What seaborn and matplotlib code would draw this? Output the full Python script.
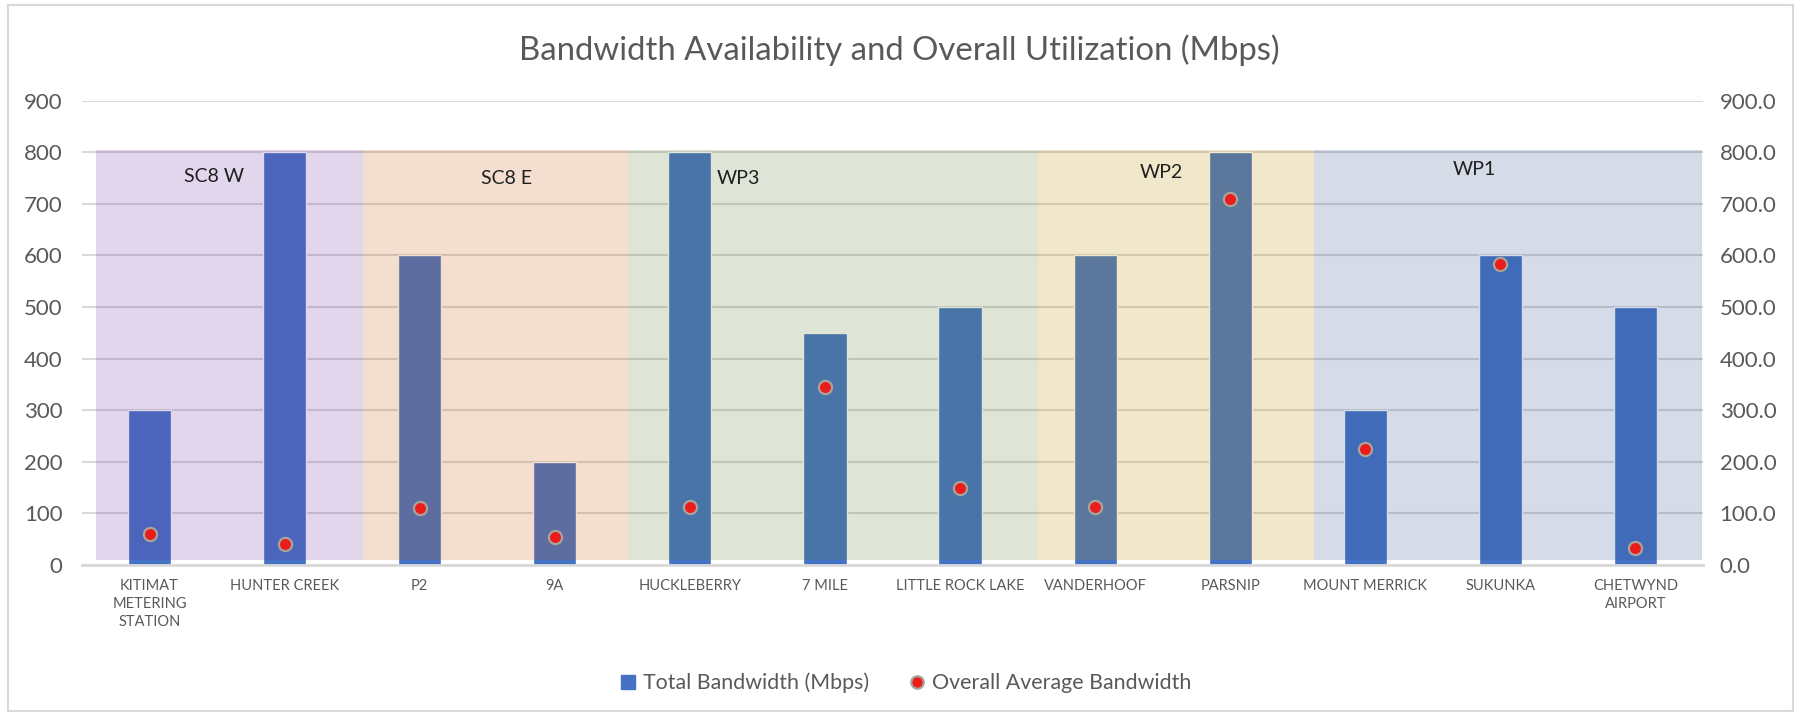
import numpy as np
import pandas as pd
import matplotlib
matplotlib.use("Agg")
import matplotlib.pyplot as plt
from matplotlib.lines import Line2D
from matplotlib.patches import Rectangle
import seaborn as sns

# ---------------- data ----------------
locations = ["KITIMAT\nMETERING\nSTATION", "HUNTER CREEK", "P2", "9A", "HUCKLEBERRY",
             "7 MILE", "LITTLE ROCK LAKE", "VANDERHOOF", "PARSNIP", "MOUNT MERRICK",
             "SUKUNKA", "CHETWYND\nAIRPORT"]
total_bw = [300, 800, 600, 200, 800, 450, 500, 600, 800, 300, 600, 500]
avg_bw = [60, 40, 110, 54, 112, 345, 150, 112, 710, 225, 584, 32]

# region bands (span in category-index units) and their labels
band_names = ["SC8 W", "SC8 E", "WP3", "WP2", "WP1"]
band_start = [-0.40, 1.58, 3.55, 6.58, 8.62]
band_end = [1.58, 3.55, 6.58, 8.62, 11.49]
band_low = 10
band_high = 805
band_colors = ["#6E32A0", "#C85A14", "#5A7D37", "#B98C00", "#2D508C"]
band_label_x = [0.48, 2.64, 4.36, 7.49, 9.81]
band_label_y = [754, 750, 750, 760, 767]

y_ticks = [0, 100, 200, 300, 400, 500, 600, 700, 800, 900]

df = pd.DataFrame({"Location": locations, "Total": total_bw, "Avg": avg_bw})
df["pos"] = np.arange(len(df))

# ---------------- figure ----------------
sns.set_theme(style="white")
plt.rcParams["font.family"] = ["Lato", "DejaVu Sans"]

fig = plt.figure(figsize=(17.98, 7.15), dpi=100)
ax = fig.add_axes([82 / 1798, 1 - 565 / 715, (1703 - 82) / 1798, (565 - 100.7) / 715])

grid_c = "#D9D9D9"
text_c = "#595959"

sns.barplot(data=df, x="Location", y="Total", color="#4472C4", width=0.32,
            saturation=1, ax=ax, zorder=1)

for s, e, c in zip(band_start, band_end, band_colors):
    ax.fill_between([s, e], band_low, band_high, color=c, alpha=0.2,
                    linewidth=0, zorder=3)

for name, x, y in zip(band_names, band_label_x, band_label_y):
    ax.text(x, y, name, ha="center", va="center", fontsize=14, color="#1F1F1F", zorder=6)

ax.set_xlim(-0.5, len(df) - 0.5)
ax.set_ylim(0, 900)
ax.set_yticks(y_ticks)
ax.set_yticklabels([str(v) for v in y_ticks])
ax.yaxis.grid(True, color=grid_c, linewidth=1.5, zorder=0)
ax.set_axisbelow(True)
ax.set_xlabel("")
ax.set_ylabel("")
for sp in ["top", "left", "right"]:
    ax.spines[sp].set_visible(False)
ax.spines["bottom"].set_color(grid_c)
ax.spines["bottom"].set_linewidth(2)
ax.tick_params(axis="y", length=0, pad=14, labelsize=16, labelcolor=text_c)
ax.tick_params(axis="x", length=0, pad=10, labelsize=10.5, labelcolor=text_c)
for lab in ax.get_xticklabels():
    lab.set_linespacing(1.35)
    lab.set_verticalalignment("top")

ax2 = ax.twinx()
sns.scatterplot(data=df, x="pos", y="Avg", ax=ax2, color="#EA1C1C", s=90,
                edgecolor="#A9A39A", linewidth=1.6, zorder=5, legend=False)
ax2.set_ylim(0, 900)
ax2.set_yticks(y_ticks)
ax2.set_yticklabels([f"{v:.1f}" for v in y_ticks])
ax2.set_ylabel("")
ax2.set_xlabel("")
for sp in ["top", "left", "right", "bottom"]:
    ax2.spines[sp].set_visible(False)
ax2.tick_params(axis="y", length=0, pad=12, labelsize=16, labelcolor=text_c)
ax2.grid(False)
ax.set_xlim(-0.5, len(df) - 0.5)

fig.text(0.5, 1 - 50 / 715, "Bandwidth Availability and Overall Utilization (Mbps)",
         ha="center", va="center", fontsize=23.7, color=text_c)

handles = [
    Line2D([], [], marker="s", linestyle="none", markersize=10, color="#4472C4"),
    Line2D([], [], marker="o", linestyle="none", markersize=9, markerfacecolor="#EA1C1C",
           markeredgecolor="#A9A39A", markeredgewidth=1.6),
]
fig.legend(handles, ["Total Bandwidth (Mbps)", "Overall Average Bandwidth"],
           loc="center", bbox_to_anchor=(0.504, 1 - 683 / 715), ncol=2, frameon=False,
           fontsize=15.4, labelcolor=text_c, handlelength=0.7, handletextpad=0.35,
           columnspacing=1.9)

fig.patches.append(Rectangle((8 / 1798, 4 / 715), (1793 - 8) / 1798, (711 - 5) / 715,
                             transform=fig.transFigure, fill=False,
                             edgecolor=grid_c, linewidth=1.5))

fig.savefig("out.png", dpi=100)
